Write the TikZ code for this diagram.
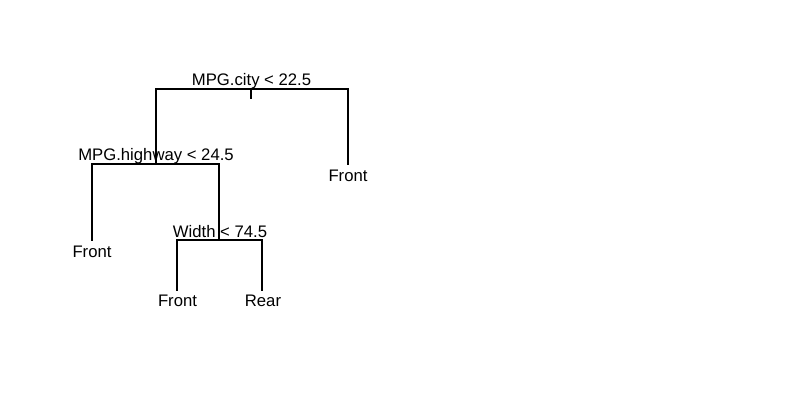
\documentclass[tikz,border=0pt]{standalone}
\usepackage{fontspec}
\setmainfont{Liberation Sans}
\begin{document}
\begin{tikzpicture}[x=1pt,y=-1pt,
  edge/.style={line width=1.1pt,line cap=rect},
  lbl/.style={anchor=base,inner sep=0pt,font=\fontsize{16.7}{18}\selectfont}]
\useasboundingbox[fill=white] (0,0) rectangle (800,400);
% split points
\coordinate (r) at (251,89);
\coordinate (rs) at (251,98);
\coordinate (rl) at (156,89);
\coordinate (rr) at (348,89);
\coordinate (n1) at (156,164);
\coordinate (l1) at (348,164);
\coordinate (n1l) at (92,164);
\coordinate (n1r) at (219,164);
\coordinate (l2) at (92,240);
\coordinate (n2) at (219,240);
\coordinate (n2l) at (177,240);
\coordinate (n2r) at (262,240);
\coordinate (l3) at (177,290);
\coordinate (l4) at (262,290);
% tree
\draw[edge] (r) -- (rs);
\draw[edge] (n1) -- (rl) -- (rr) -- (l1);
\draw[edge] (l2) -- (n1l) -- (n1r) -- (n2);
\draw[edge] (l3) -- (n2l) -- (n2r) -- (l4);
% labels
\node[lbl] (tr) at (251.5,85) {MPG.city < 22.5};
\node[lbl] (t1) at (156,160) {MPG.highway < 24.5};
\node[lbl] (t2) at (220,237) {Width < 74.5};
\node[lbl] (f1) at (348,181) {Front};
\node[lbl] (f2) at (92,257) {Front};
\node[lbl] (f3) at (177.5,306) {Front};
\node[lbl] (f4) at (263,306) {Rear};
\end{tikzpicture}
\end{document}
